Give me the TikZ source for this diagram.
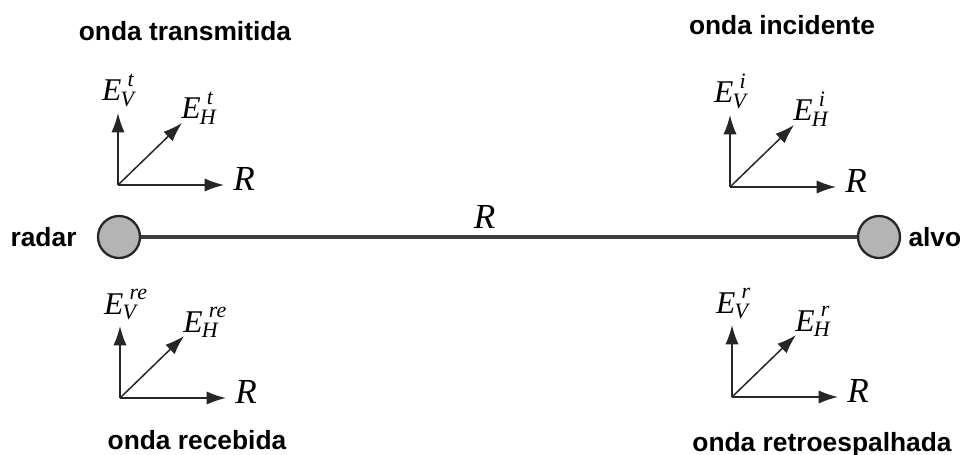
\documentclass[tikz,border=0pt]{standalone}
\usepackage{fontspec}
\setmainfont{Liberation Serif}
\newfontfamily\labelfont{Liberation Sans}
\usetikzlibrary{arrows.meta,positioning,calc}
\definecolor{targetgray}{RGB}{180,180,180}
\definecolor{linegray}{RGB}{60,60,60}
% field component E_{sub}^{sup}, set in text mode
\newcommand{\fld}[2]{{\itshape\fontsize{18}{20}\selectfont E\kern-0.5pt\makebox[0pt][l]{\hspace{4pt}\raisebox{8pt}{\fontsize{12.5}{14}\selectfont #2}}\raisebox{-3pt}{\fontsize{12.5}{14}\selectfont #1}}}
\newcommand{\rng}{{\itshape\fontsize{20}{22}\selectfont R}}

\begin{document}
\begin{tikzpicture}[x=0.02cm,y=-0.02cm,>={Latex[length=11pt,width=7.5pt]}]
\tikzstyle{target}=[circle,draw=black!85,line width=1.3pt,fill=targetgray,minimum size=0.84cm,inner sep=0pt]
\tikzstyle{caption}=[inner sep=0pt,font=\labelfont\bfseries\fontsize{15}{18}\selectfont]
\tikzstyle{fld}=[inner sep=0pt]
\tikzstyle{vec}=[->,line width=0.85pt,black!85]
\useasboundingbox (0,0) rectangle (962,455);
% radar and target
\node[target] (radar) at (119,237) {};
\node[target] (alvo) at (879,237) {};
\draw[line width=2pt,linegray] (radar) -- (alvo) node[fld,pos=0.48,above=4pt,black] (range) {\rng};
\node[caption,left=0.4cm of radar] (radarlbl) {radar};
\node[caption,right=0.14cm of alvo] (alvolbl) {alvo};
% field triads
\foreach \n/\x/\y/\s in {tx/118/185/t,inc/730/187/i,rx/120/398/re,bs/732/397/r}{
  \coordinate (o\n) at (\x,\y);
  \coordinate (v\n) at (\x,\y-72);
  \coordinate (h\n) at (\x+106,\y);
  \coordinate (d\n) at (\x+64,\y-62);
  \draw[vec] (o\n) -- (v\n);
  \draw[vec] (o\n) -- (h\n);
  \draw[vec] (o\n) -- (d\n);
  \node[fld,anchor=base] (ev\n) at ([yshift=0.24cm]v\n) {\fld{V}{\s}};
  \node[fld,anchor=base west] (eh\n) at ([xshift=-0.02cm,yshift=0.08cm]d\n) {\fld{H}{\s}};
  \node[fld,anchor=base west] (r\n) at ([xshift=0.18cm,yshift=-0.12cm]h\n) {\rng};
}
% captions
\node[caption] (txlbl) at (185,31) {onda transmitida};
\node[caption] (inclbl) at (782,25) {onda incidente};
\node[caption] (rxlbl) at (197,440) {onda recebida};
\node[caption] (bslbl) at (822,445) {onda retroespalhada};
\end{tikzpicture}
\end{document}
